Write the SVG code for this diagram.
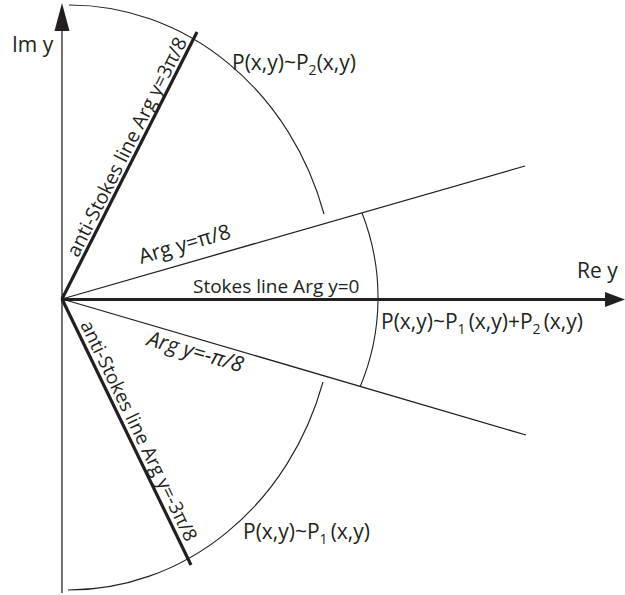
<svg xmlns="http://www.w3.org/2000/svg" width="625" height="595" viewBox="0 0 625 595">
<style>
.thin{fill:none;stroke:#231f20;stroke-width:1.3}
.thick{fill:none;stroke:#231f20;stroke-width:3.2}
.arc{fill:none;stroke:#231f20;stroke-width:1.1}
.head{fill:#231f20}
text{font-family:"Open Sans","Noto Sans","Liberation Sans",sans-serif;fill:#231f20;font-size:21px}
.sub{font-size:14px}
</style>
<rect width="625" height="595" fill="#fff"/>
<g id="axes">
<line class="thin" x1="62" y1="593" x2="62" y2="28"/>
<polygon class="head" points="62,3 54.5,31 69.5,31"/>
<line class="thick" x1="61" y1="299.5" x2="607" y2="299.5"/>
<polygon class="head" points="625,299.5 605,292 605,307"/>
</g>
<g id="rays">
<line class="thick" x1="62" y1="299" x2="197" y2="32"/>
<line class="thick" x1="62" y1="299" x2="191" y2="565"/>
<line class="thin" x1="62" y1="299" x2="525" y2="166"/>
<line class="thin" x1="62" y1="299" x2="526" y2="435"/>
</g>
<g id="arcs">
<path class="arc" d="M69,5 A266,294 0 0 1 324,214"/>
<path class="arc" d="M362,213 A231,231 0 0 1 360,387"/>
<path class="arc" d="M68,590 A266,294 0 0 0 323,382"/>
</g>
<g id="labels">
<text x="12" y="52">Im y</text>
<text x="577" y="278">Re y</text>
<text x="232" y="70">P(x,y)~P<tspan class="sub" dy="5">2</tspan><tspan dy="-5">(x,y)</tspan></text>
<text x="381" y="329">P(x,y)~P<tspan class="sub" dy="5">1</tspan><tspan dy="-5" dx="3">(x,y)+P</tspan><tspan class="sub" dy="5">2</tspan><tspan dy="-5" dx="3">(x,y)</tspan></text>
<text x="243" y="539">P(x,y)~P<tspan class="sub" dy="5">1</tspan><tspan dy="-5" dx="3">(x,y)</tspan></text>
<text x="193" y="293" style="font-size:19px">Stokes line Arg y=0</text>
<text transform="translate(141,264) rotate(-16)">Arg y=π/8</text>
<text transform="translate(146,345) rotate(16)" style="font-style:italic;font-size:21.5px">Arg y=-π/8</text>
<text transform="translate(132.8,149.9) rotate(-63.2)" text-anchor="middle" style="font-size:19.5px">anti-Stokes line Arg y=3π/8</text>
<text transform="translate(132.9,433.6) rotate(64.1)" text-anchor="middle" style="font-size:19px">anti-Stokes line Arg y=-3π/8</text>
</g>
</svg>
